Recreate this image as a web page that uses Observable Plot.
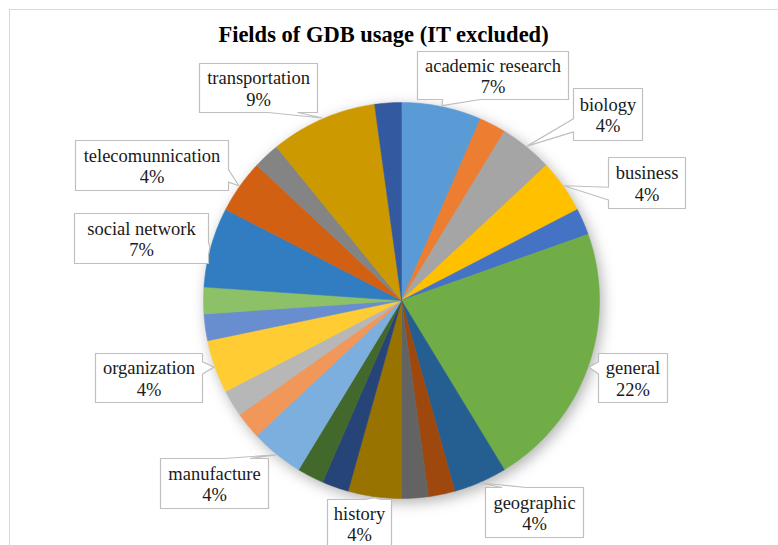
<!DOCTYPE html>
<html>
<head>
<meta charset="utf-8">
<script src="https://cdn.jsdelivr.net/npm/d3@7"></script>
<script src="https://cdn.jsdelivr.net/npm/@observablehq/plot@0.6"></script>
<style>
  html, body { margin: 0; padding: 0; background: #ffffff; }
</style>
</head>
<body>
<div id="chart"></div>
<script>
// ---- data ----
const title = "Fields of GDB usage (IT excluded)";
const categories = ["academic research","unlabeled 1","biology","business","unlabeled 2","general","geographic","unlabeled 3","unlabeled 4","history","unlabeled 5","unlabeled 6","manufacture","unlabeled 7","unlabeled 8","organization","unlabeled 9","unlabeled 10","social network","telecomunnication","unlabeled 11","transportation","unlabeled 12"];
const counts = [3,1,2,2,1,10,2,1,1,2,1,1,2,1,1,2,1,1,3,2,1,4,1];
const labeled = ["academic research","biology","business","general","geographic","history","manufacture","organization","social network","telecomunnication","transportation"];

// ---- styles / layout ----
const colors = ["#5B9BD5","#ED7D31","#A5A5A5","#FFC000","#4472C4","#70AD47","#255E91","#9E480E","#636363","#997300","#264478","#43682B","#7CAFDD","#F1975A","#B7B7B7","#FFCD33","#698ED0","#8CC168","#327DC2","#D26012","#848484","#CC9A00","#335AA1"];
const W = 778, H = 545, CX = 401, CY = 300, R = 198;
// callout boxes in pixels [x0, y0, x1, y1]
const boxes = {
  "academic research": [417, 51, 568, 99],
  "biology": [573, 88, 642, 140],
  "business": [608, 157, 685, 208],
  "general": [598, 353, 667, 402],
  "geographic": [485, 487, 583, 537],
  "history": [327, 499, 391, 547],
  "manufacture": [160, 458, 268, 508],
  "organization": [95, 353, 202, 402],
  "social network": [74, 213, 208, 263],
  "telecomunnication": [75, 140, 228, 190],
  "transportation": [199, 63, 317, 112]
};

const px2x = p => (p - CX) / R;
const px2y = p => (CY - p) / R;

const total = d3.sum(counts);
const arcs = d3.pie().sort(null).value(d => d)(counts);

// slice polygons
const slicePts = [];
arcs.forEach((a, i) => {
  const cat = categories[i];
  const n = Math.max(2, Math.ceil((a.endAngle - a.startAngle) / (Math.PI / 180)));
  slicePts.push({category: cat, x: 0, y: 0});
  for (let k = 0; k <= n; k++) {
    const t = a.startAngle + (a.endAngle - a.startAngle) * k / n;
    slicePts.push({category: cat, x: Math.sin(t), y: Math.cos(t)});
  }
  slicePts.push({category: cat, x: 0, y: 0});
});

// callouts
const calloutPts = [];
const labelRows = [];
labeled.forEach(name => {
  const i = categories.indexOf(name);
  const a = arcs[i];
  const mid = (a.startAngle + a.endAngle) / 2;
  const tx = CX + R * 1.005 * Math.sin(mid), ty = CY - R * 1.005 * Math.cos(mid);
  const [x0, y0, x1, y1] = boxes[name];
  const w = x1 - x0, h = y1 - y0, hc = (x0 + x1) / 2, vc = (y0 + y1) / 2;
  const dx = tx - hc, dy = ty - vc, dq = dx * h / w, dz = Math.abs(dy) - Math.abs(dq);
  const xb1 = x0 + w * (dx > 0 ? 7 : 2) / 12, xb2 = x0 + w * (dx > 0 ? 10 : 5) / 12;
  const yb1 = y0 + h * (dy > 0 ? 7 : 2) / 12, yb2 = y0 + h * (dy > 0 ? 10 : 5) / 12;
  const pts = [[x0, y0]];
  if (dz > 0 && dy < 0) pts.push([xb1, y0], [tx, ty], [xb2, y0]);
  pts.push([x1, y0]);
  if (dz <= 0 && dx > 0) pts.push([x1, yb1], [tx, ty], [x1, yb2]);
  pts.push([x1, y1]);
  if (dz > 0 && dy > 0) pts.push([xb2, y1], [tx, ty], [xb1, y1]);
  pts.push([x0, y1]);
  if (dz <= 0 && dx < 0) pts.push([x0, yb2], [tx, ty], [x0, yb1]);
  pts.push([x0, y0]);
  pts.forEach(([px, py]) => calloutPts.push({name, x: px2x(px), y: px2y(py)}));
  labelRows.push({
    name,
    x: px2x(hc), y: px2y(vc),
    text: name + "\n" + Math.round(counts[i] / total * 100) + "%"
  });
});

const serif = "'Liberation Serif', 'Times New Roman', serif";

const chart = Plot.plot({
  width: W, height: H,
  margin: 0,
  x: {domain: [px2x(0), px2x(W)], range: [0, W], axis: null},
  y: {domain: [px2y(H), px2y(0)], range: [H, 0], axis: null},
  color: {domain: categories, range: colors},
  style: {fontFamily: serif, background: "white", overflow: "visible"},
  marks: [
    Plot.ruleY([px2y(9)], {x1: px2x(9), x2: px2x(W), stroke: "#d9d9d9", strokeWidth: 1}),
    Plot.ruleX([px2x(9)], {y1: px2y(9), y2: px2y(H), stroke: "#d9d9d9", strokeWidth: 1}),
    Plot.line(slicePts, {x: "x", y: "y", z: "category", fill: "category", stroke: "category", strokeWidth: 0.5, curve: "linear"}),
    Plot.line(calloutPts, {x: "x", y: "y", z: "name", fill: "white", stroke: "#bfbfbf", strokeWidth: 1.2, curve: "linear"}),
    Plot.text(labelRows, {x: "x", y: "y", text: "text", fontSize: 18.5, lineHeight: 1.17, fill: "#1a1a1a", textAnchor: "middle", fontFamily: serif}),
    Plot.text([title], {frameAnchor: "top-left", dx: 383, dy: 34, text: d => d, textAnchor: "middle", lineAnchor: "middle", fontSize: 22.5, fontWeight: "bold", fill: "#000", fontFamily: serif})
  ]
});

const lineGroups = chart.querySelectorAll('g[aria-label="line"]');
if (lineGroups.length) lineGroups[0].style.filter = "drop-shadow(3px 4px 7px rgba(0,0,0,0.30))";
document.getElementById("chart").appendChild(chart);
</script>
</body>
</html>
